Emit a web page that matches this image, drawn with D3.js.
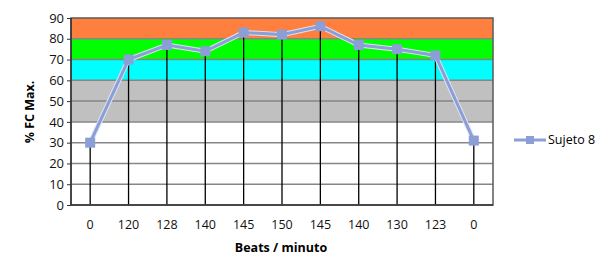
<!DOCTYPE html>
<html><head><meta charset="utf-8">
<script src="https://cdn.jsdelivr.net/npm/d3@7"></script>
<style>body{margin:0;background:#fff}svg{display:block}text{font-family:"Open Sans","DejaVu Sans",sans-serif;fill:#000}</style>
</head><body><svg id="c" width="604" height="258"></svg>
<script>
const categories = ["0","120","128","140","145","150","145","140","130","123","0"];
const values = [30,70,77,74,83,82,86,77,75,72,31];
const seriesName = "Sujeto 8";
const yTicks = [0,10,20,30,40,50,60,70,80,90];
const bands = [{from:40,to:60,color:"#c0c0c0"},{from:60,to:70,color:"#00ffff"},{from:70,to:80,color:"#00ff00"},{from:80,to:90,color:"#ff7f3f"}];

const svg = d3.select("#c");
const L=71,R=493,T=18,B=205;
const x = d3.scaleBand().domain(d3.range(categories.length)).range([L,R]);
const y = d3.scaleLinear().domain([0,90]).range([B,T]);
const g = svg.append("g");
g.selectAll("rect.band").data(bands).enter().append("rect")
  .attr("x",L).attr("width",R-L).attr("y",d=>y(d.to)).attr("height",d=>y(d.from)-y(d.to)).attr("fill",d=>d.color);
g.selectAll("line.grid").data(yTicks.filter(t=>t>0&&t<90)).enter().append("line")
  .attr("x1",L).attr("x2",R).attr("y1",d=>y(d)).attr("y2",d=>y(d)).attr("stroke","#868686").attr("stroke-width",1.5);
// drop lines
g.selectAll("line.drop").data(values).enter().append("line")
  .attr("x1",(d,i)=>x(i)+x.bandwidth()/2).attr("x2",(d,i)=>x(i)+x.bandwidth()/2)
  .attr("y1",d=>y(d)).attr("y2",B).attr("stroke","#000").attr("stroke-width",1.3);
// border
g.append("rect").attr("x",L).attr("y",T).attr("width",R-L).attr("height",B-T).attr("fill","none").attr("stroke","#5a5a5a").attr("stroke-width",1.5);
g.append("line").attr("x1",L).attr("x2",L).attr("y1",T).attr("y2",B).attr("stroke","#333").attr("stroke-width",1.5);
g.append("line").attr("x1",L).attr("x2",R).attr("y1",B).attr("y2",B).attr("stroke","#333").attr("stroke-width",1.5);
// y axis
const ya = svg.append("g").attr("transform",`translate(${L},0)`).call(d3.axisLeft(y).tickValues(yTicks).tickSize(4).tickPadding(3));
ya.select(".domain").remove();
ya.selectAll("line").attr("stroke","#333");
ya.selectAll("text").style("font-size","13px").style("fill","#111");
// x axis labels
const xa = svg.append("g").attr("transform",`translate(0,${B})`).call(d3.axisBottom(x).tickFormat(i=>categories[i]).tickSize(0).tickPadding(15));
xa.select(".domain").remove();
xa.selectAll("text").style("font-size","12.5px").style("fill","#111");
// line
const line = d3.line().x((d,i)=>x(i)+x.bandwidth()/2).y(d=>y(d));
g.append("path").datum(values).attr("d",line).attr("fill","none").attr("stroke","#dfe4f4").attr("stroke-width",5);
g.append("path").datum(values).attr("d",line).attr("fill","none").attr("stroke","#8c9ed6").attr("stroke-width",3);
g.selectAll("rect.m").data(values).enter().append("rect")
  .attr("x",(d,i)=>x(i)+x.bandwidth()/2-5).attr("y",d=>y(d)-5).attr("width",10).attr("height",10).attr("fill","#8c9ed6");
// axis titles
svg.append("text").attr("transform","translate(34,112) rotate(-90)").attr("text-anchor","middle")
  .style("font-size","12.5px").style("font-weight","bold").text("% FC Max.");
svg.append("text").attr("x",281).attr("y",252).attr("text-anchor","middle")
  .style("font-size","12.5px").style("font-weight","bold").text("Beats / minuto");
// legend
svg.append("line").attr("x1",514).attr("x2",546).attr("y1",140).attr("y2",140).attr("stroke","#8c9ed6").attr("stroke-width",3);
svg.append("rect").attr("x",526).attr("y",136).attr("width",8).attr("height",8).attr("fill","#8c9ed6");
svg.append("text").attr("x",548).attr("y",144).style("font-size","12.5px").text(seriesName);
</script></body></html>
